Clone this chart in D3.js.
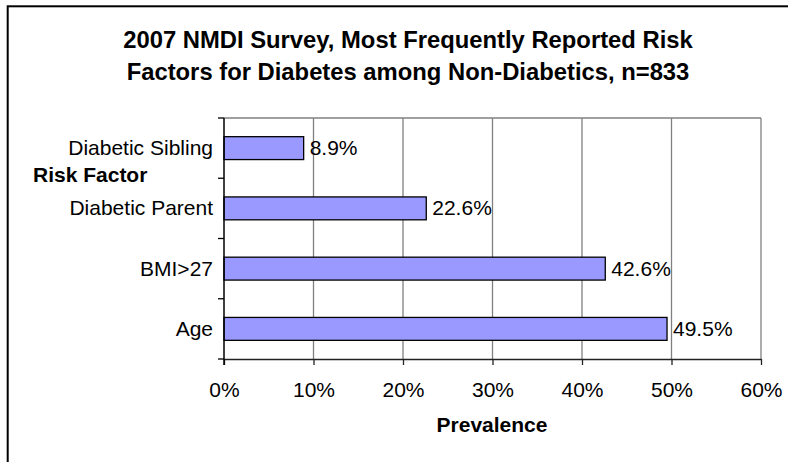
<!DOCTYPE html>
<html>
<head>
<meta charset="utf-8">
<script src="https://cdn.jsdelivr.net/npm/d3@7"></script>
<style>
  html, body { margin: 0; padding: 0; background: #fff; }
  svg { display: block; font-family: "Liberation Sans", Arial, sans-serif; }
</style>
</head>
<body>
<svg id="chart" width="788" height="462"></svg>
<script>
// Risk factors, listed top to bottom
const categories = ["Diabetic Sibling", "Diabetic Parent", "BMI>27", "Age"];
const prevalence = [8.9, 22.6, 42.6, 49.5];
const xTicks = [0, 10, 20, 30, 40, 50, 60];
const titleLines = [
  "2007 NMDI Survey, Most Frequently Reported Risk",
  "Factors for Diabetes among Non-Diabetics, n=833"
];

const data = categories.map((c, i) => ({ category: c, value: prevalence[i] }));

const svg = d3.select("#chart");
const plot = { left: 224, right: 761, top: 118, bottom: 359 };
const fontSize = 21;

// Outer chart frame (runs off the right and bottom edges)
svg.append("rect")
  .attr("x", 7.7).attr("y", 6.3)
  .attr("width", 800).attr("height", 480)
  .attr("fill", "#fff").attr("stroke", "#000").attr("stroke-width", 2);

const x = d3.scaleLinear().domain([0, 60]).range([plot.left, plot.right]);
const y = d3.scaleBand().domain(categories).range([plot.top, plot.bottom])
  .paddingInner(0.62).paddingOuter(0.31);

// Vertical gridlines and plot border
svg.append("g").selectAll("line").data(xTicks.slice(1)).join("line")
  .attr("x1", d => x(d)).attr("x2", d => x(d))
  .attr("y1", plot.top).attr("y2", plot.bottom)
  .attr("stroke", "#808080").attr("stroke-width", 1.3);
svg.append("line")
  .attr("x1", plot.left).attr("x2", plot.right)
  .attr("y1", plot.top).attr("y2", plot.top)
  .attr("stroke", "#808080").attr("stroke-width", 1.3);

// Bars
svg.append("g").selectAll("rect").data(data).join("rect")
  .attr("x", x(0))
  .attr("y", d => y(d.category))
  .attr("width", d => x(d.value) - x(0))
  .attr("height", y.bandwidth())
  .attr("fill", "#9999ff")
  .attr("stroke", "#000").attr("stroke-width", 1.3);

// Value labels
svg.append("g").selectAll("text").data(data).join("text")
  .attr("x", d => x(d.value) + 6)
  .attr("y", d => y(d.category) + y.bandwidth() / 2 + 7)
  .attr("font-size", fontSize).attr("fill", "#000")
  .text(d => d.value.toFixed(1) + "%");

// X axis
const xAxis = d3.axisBottom(x).tickValues(xTicks).tickFormat(d => d + "%")
  .tickSize(6).tickSizeOuter(0).tickPadding(17);
const gx = svg.append("g").attr("transform", `translate(0,${plot.bottom})`).call(xAxis);
gx.select(".domain").attr("stroke", "#222").attr("stroke-width", 1.5);
gx.selectAll(".tick line").attr("stroke", "#222").attr("stroke-width", 1.3);
gx.selectAll(".tick text").attr("font-size", fontSize).attr("font-family", null).attr("fill", "#000");

// Y axis: ticks sit on band boundaries
const yBounds = d3.range(categories.length + 1).map(i => plot.top + i * y.step());
svg.append("line")
  .attr("x1", plot.left).attr("x2", plot.left)
  .attr("y1", plot.top).attr("y2", plot.bottom + 6)
  .attr("stroke", "#000").attr("stroke-width", 1.5);
svg.append("g").selectAll("line").data(yBounds).join("line")
  .attr("x1", plot.left - 6).attr("x2", plot.left)
  .attr("y1", d => d).attr("y2", d => d)
  .attr("stroke", "#000").attr("stroke-width", 1.3);
svg.append("g").selectAll("text").data(categories).join("text")
  .attr("x", 213)
  .attr("y", d => y(d) + y.bandwidth() / 2 + 7)
  .attr("text-anchor", "end").attr("font-size", fontSize).attr("fill", "#000")
  .text(d => d);

// Axis titles
svg.append("text").attr("x", 33).attr("y", 182)
  .attr("font-size", fontSize).attr("font-weight", "bold").text("Risk Factor");
svg.append("text").attr("x", 492).attr("y", 432)
  .attr("text-anchor", "middle").attr("font-size", fontSize).attr("font-weight", "bold")
  .text("Prevalence");

// Chart title
svg.append("g").selectAll("text").data(titleLines).join("text")
  .attr("x", 408).attr("y", (d, i) => 48 + i * 32)
  .attr("text-anchor", "middle").attr("font-size", 23.8).attr("font-weight", "bold")
  .text(d => d);
</script>
</body>
</html>
